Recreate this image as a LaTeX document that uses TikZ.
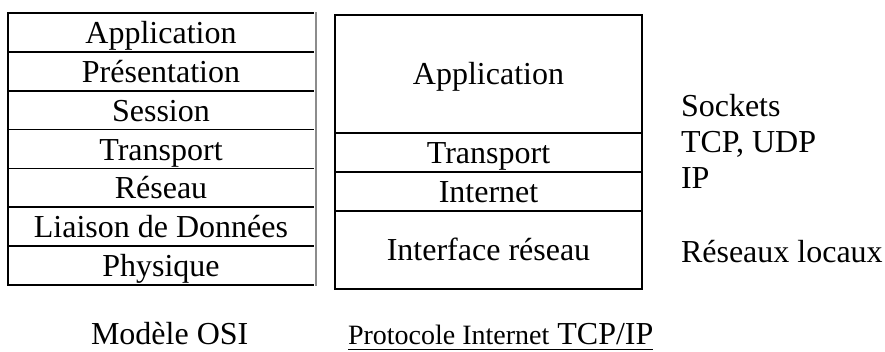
\documentclass[tikz,border=0pt]{standalone}
\usepackage{fontspec}
\setmainfont{Liberation Serif}
\begin{document}
\begin{tikzpicture}[x=0.75pt,y=-0.75pt,
  every node/.style={font=\fontsize{24}{28}\selectfont, inner sep=0pt, outer sep=0pt},
  osilayer/.style={rectangle, minimum width={306*0.75pt}, minimum height={38.86*0.75pt}, text height=17pt, text depth=0.5pt},
  tcplayer/.style={rectangle, draw, line width=1.2pt, minimum width={307*0.75pt}, text height=17pt, text depth=0.5pt},
  sep/.style={line width=1.2pt},
  lbl/.style={anchor=base west}]
\useasboundingbox (0,0) rectangle (885,352);
% OSI model
\foreach \n/\t [count=\i] in {o1/Application,o2/Présentation,o3/Session,o4/Transport,o5/Réseau,o6/Liaison de Données,o7/Physique}{
  \node[osilayer] (\n) at (161,{13+38.86*(\i-0.5)}) {\t};
}
\foreach \n in {o1,o2,o3,o4,o5,o6,o7}{
  \draw[sep] (\n.north west) -- (\n.north east);
}
\draw[sep] (o7.south west) -- (o7.south east);
\draw[sep] ([yshift=0.6pt]o1.north west) -- ([yshift=-0.6pt]o7.south west);
\draw[line width=0.8pt, black!45] ([xshift=1.5pt,yshift=0.6pt]o1.north east) -- ([xshift=1.5pt,yshift=-0.6pt]o7.south east);
% TCP/IP model
\node[tcplayer, minimum height={118*0.75pt}] (t1) at (488.5,74) {Application};
\node[tcplayer, minimum height={39*0.75pt}] (t2) at (488.5,152.5) {Transport};
\node[tcplayer, minimum height={39*0.75pt}] (t3) at (488.5,191.5) {Internet};
\node[tcplayer, minimum height={78*0.75pt}] (t4) at (488.5,250) {Interface réseau};
% right labels
\node[lbl] (r1) at (681,117) {Sockets};
\node[lbl] (r2) at (681,153) {TCP, UDP};
\node[lbl] (r3) at (681,189) {IP};
\node[lbl] (r4) at (681,263) {Réseaux locaux};
% captions
\node[lbl] (c1) at (91,345) {Modèle OSI};
\node[lbl] (c2) at (348,345) {{\fontsize{21}{24}\selectfont Protocole Internet} TCP/IP};
\draw[line width=0.8pt] ([yshift=-3.5pt]c2.base west) -- ([yshift=-3.5pt]c2.base east);
\end{tikzpicture}
\end{document}
